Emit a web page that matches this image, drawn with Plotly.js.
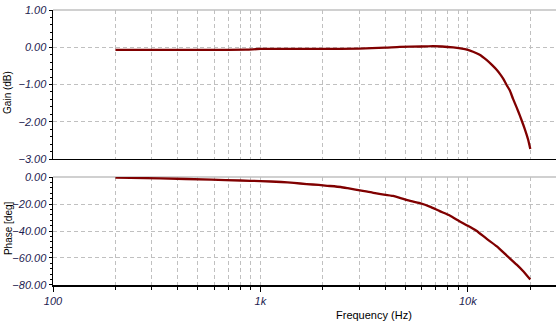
<!DOCTYPE html>
<html>
<head>
<meta charset="utf-8">
<script src="https://cdn.plot.ly/plotly-3.0.1.min.js"></script>
<style>html,body{margin:0;padding:0;background:#fff;}#chart{width:556px;height:327px;}</style>
</head>
<body>
<div id="chart"></div>
<script>
// Gain (dB) vs frequency (Hz)
var gainFreq = [200, 500, 850, 1000, 2000, 3000, 4000, 4700, 6000, 6800, 7500, 8500, 9200, 10000, 10600, 11400, 12300, 13100, 13800, 14300, 14800, 15400, 15900, 16500, 17200, 17800, 18500, 18800, 19500, 20000];
var gainDb   = [-0.07, -0.07, -0.065, -0.045, -0.045, -0.035, -0.01, 0.01, 0.02, 0.03, 0.02, -0.005, -0.03, -0.07, -0.12, -0.2, -0.34, -0.48, -0.61, -0.72, -0.84, -1.02, -1.15, -1.38, -1.62, -1.83, -2.08, -2.19, -2.47, -2.73];

// Phase (deg) vs frequency (Hz)
var phaseFreq = [200, 330, 580, 800, 1000, 1260, 1450, 1670, 1910, 2100, 2440, 2630, 2870, 3170, 3470, 3740, 4360, 5060, 5870, 6550, 7320, 8180, 9150, 10000, 11000, 12300, 13800, 15400, 17200, 18500, 20000];
var phaseDeg  = [-0.5, -1.0, -2.0, -2.6, -3.0, -3.7, -4.4, -5.2, -5.9, -6.5, -7.4, -8.3, -9.4, -10.5, -11.5, -12.5, -14.0, -17.0, -19.4, -21.9, -25.3, -28.5, -32.9, -36.1, -39.8, -45.7, -51.4, -58.2, -64.9, -69.8, -76.0];

// Tick definitions
var xMajorVals = [100, 1000, 10000];
var xMajorText = ['100', '1k', '10k'];
var xMinorVals = [200, 300, 400, 500, 600, 700, 800, 900, 2000, 3000, 4000, 5000, 6000, 7000, 8000, 9000, 20000];

var lineColor = '#800000';
var gridColor = '#c0c0c0';
var gridDash = '4px,3px';
var tickFont = {family: 'Liberation Sans, Arial, sans-serif', size: 11, color: '#1c1c50', style: 'italic'};
var textFont = {family: 'Liberation Sans, Arial, sans-serif', size: 11, color: '#000'};

var traces = [
  {x: gainFreq, y: gainDb, xaxis: 'x', yaxis: 'y', type: 'scatter', mode: 'lines',
   line: {color: lineColor, width: 2.3, shape: 'spline', smoothing: 0.6}, hoverinfo: 'skip'},
  {x: phaseFreq, y: phaseDeg, xaxis: 'x2', yaxis: 'y2', type: 'scatter', mode: 'lines',
   line: {color: lineColor, width: 2.3, shape: 'spline', smoothing: 0.5}, hoverinfo: 'skip'}
];

function xAxis(anchor, showLabels) {
  return {
    type: 'log', range: [2, 4.425], anchor: anchor,
    tickmode: 'array', tickvals: xMajorVals, ticktext: xMajorText,
    showticklabels: showLabels, tickfont: tickFont,
    ticks: showLabels ? 'outside' : '', ticklen: 5, tickcolor: '#000',
    showgrid: true, gridcolor: gridColor, griddash: gridDash, gridwidth: 1,
    showline: true, linecolor: '#000', linewidth: 1.5, zeroline: false,
    minor: {tickmode: 'array', tickvals: xMinorVals, ticks: showLabels ? 'outside' : '', ticklen: 3,
            tickcolor: '#000', showgrid: true, gridcolor: gridColor, griddash: gridDash, gridwidth: 1},
    fixedrange: true
  };
}

var layout = {
  width: 556, height: 327,
  margin: {l: 53, r: 0, t: 10, b: 42},
  paper_bgcolor: '#fff', plot_bgcolor: '#fff',
  showlegend: false,
  xaxis: xAxis('y', false),
  xaxis2: xAxis('y2', true),
  yaxis: {
    domain: [0.4582, 1], range: [-3, 1], anchor: 'x',
    tickmode: 'linear', tick0: -3, dtick: 1, tickformat: '.2f',
    tickfont: tickFont, ticks: 'outside', ticklen: 3, tickcolor: '#000',
    showgrid: true, gridcolor: gridColor, griddash: gridDash,
    showline: true, linecolor: '#000', linewidth: 1.5, zeroline: false,
    minor: {dtick: 0.2, ticks: 'outside', ticklen: 2, tickcolor: '#000', showgrid: false},
    fixedrange: true
  },
  yaxis2: {
    domain: [0, 0.3927], range: [-80, 0], anchor: 'x2',
    tickmode: 'linear', tick0: -80, dtick: 20, tickformat: '.2f',
    tickfont: tickFont, ticks: 'outside', ticklen: 3, tickcolor: '#000',
    showgrid: true, gridcolor: gridColor, griddash: gridDash,
    showline: true, linecolor: '#000', linewidth: 1.5, zeroline: false,
    minor: {dtick: 4, ticks: 'outside', ticklen: 2, tickcolor: '#000', showgrid: false},
    fixedrange: true
  },
  shapes: [
    {type: 'line', xref: 'paper', yref: 'y domain', x0: 0, x1: 1, y0: 1, y1: 1,
     line: {color: gridColor, width: 1.5}, layer: 'below'},
    {type: 'line', xref: 'paper', yref: 'y2 domain', x0: 0, x1: 1, y0: 1, y1: 1,
     line: {color: gridColor, width: 1.5}, layer: 'below'}
  ],
  annotations: [
    {text: 'Frequency (Hz)', xref: 'paper', yref: 'paper', x: 0.638, y: -0.109,
     xanchor: 'center', yanchor: 'middle', showarrow: false, font: textFont},
    {text: 'Gain (dB)', xref: 'paper', yref: 'paper', x: -0.0895, y: 0.702, textangle: -90,
     xanchor: 'center', yanchor: 'middle', showarrow: false, font: {family: textFont.family, size: 10, color: '#000'}},
    {text: 'Phase [deg]', xref: 'paper', yref: 'paper', x: -0.0895, y: 0.207, textangle: -90,
     xanchor: 'center', yanchor: 'middle', showarrow: false, font: {family: textFont.family, size: 10, color: '#000'}}
  ]
};

Plotly.newPlot('chart', traces, layout, {staticPlot: true, displayModeBar: false});
</script>
</body>
</html>
